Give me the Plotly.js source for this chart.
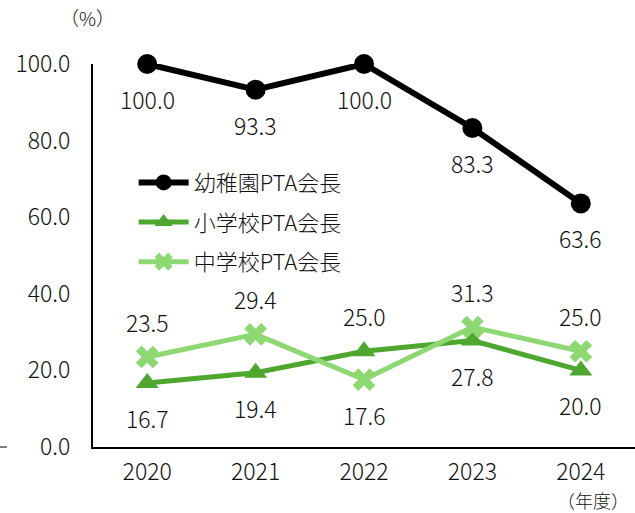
<!DOCTYPE html>
<html><head><meta charset="utf-8">
<script src="https://cdn.plot.ly/plotly-3.0.1.min.js"></script>
<style>body{margin:0}#c{width:635px;height:513px}</style>
</head><body><div id="c"></div>
<script>
const years = ['2020','2021','2022','2023','2024'];
const kinder = [100.0, 93.3, 100.0, 83.3, 63.6];
const elem = [16.7, 19.4, 25.0, 27.8, 20.0];
const junior = [23.5, 29.4, 17.6, 31.3, 25.0];
const names = ['幼稚園PTA会長','小学校PTA会長','中学校PTA会長'];
const colors = ['#000000','#4EA72E','#8ED873'];
// label placement: -1 below, +1 above
const kinderPos = [-1,-1,-1,-1,-1];
const elemPos = [-1,-1,1,-1,-1];
const juniorPos = [1,1,-1,1,1];

const font = 'Noto Sans CJK JP, sans-serif';
const W = 300;
const series = [kinder, elem, junior];
const symbols = ['circle','triangle-up','x'];
const traces = series.map((s,i)=>({
  x: years, y: s, name: names[i], type:'scatter', mode:'lines+markers',
  line:{color:colors[i], width: i===0?6:5},
  marker:{symbol:symbols[i], size:20, color:colors[i], line:{width:0}},
  cliponaxis:false, legendgroup:'g'+i
}));
const annotations = [];
[kinderPos, elemPos, juniorPos].forEach((pos,i)=>{
  series[i].forEach((v,j)=>{
    annotations.push({x:j, y:v, text:v.toFixed(1), showarrow:false,
      yshift: pos[j]*35, font:{family:font, size:23, color:'#111', weight:W}});
  });
});
annotations.push({xref:'paper', yref:'paper', x:-6/542, y:1.0, yshift:47, yanchor:'middle', text:'（%）', showarrow:false, xanchor:'center', font:{family:font, size:19, color:'#111', weight:W}});
annotations.push({xref:'paper', yref:'paper', x:1.0, y:0, yshift:-53, xshift:-4, yanchor:'middle', text:'（年度）', showarrow:false, xanchor:'right', font:{family:font, size:18, color:'#111', weight:W}});

Plotly.newPlot('c', traces, {
  width:635, height:513,
  margin:{l:93, r:0, t:64, b:66},
  paper_bgcolor:'#fff', plot_bgcolor:'#fff',
  font:{family:font, color:'#111', weight:W},
  showlegend:true,
  legend:{x:0.075, y:0.745, xanchor:'left', yanchor:'top', bgcolor:'rgba(0,0,0,0)', itemwidth:50,
    font:{family:font, size:22, color:'#111', weight:W}, traceorder:'grouped', tracegroupgap:8},
  xaxis:{type:'category', range:[-0.5,4.5], showgrid:false, zeroline:false,
    showline:true, linecolor:'#000', linewidth:2, ticks:'', tickfont:{family:font, size:23, weight:W},
    ticklabelstandoff:3},
  yaxis:{range:[0,100], dtick:20, tickformat:'.1f', showgrid:false, zeroline:false,
    showline:true, linecolor:'#000', linewidth:2, ticks:'', tickfont:{family:font, size:23, weight:W},
    ticklabelstandoff:16},
  annotations: annotations,
  shapes:[{type:'line', xref:'paper', yref:'paper', x0:-93/542, x1:-86/542, y0:0, y1:0, line:{color:'#000', width:1}}]
}, {displayModeBar:false});
</script></body></html>
